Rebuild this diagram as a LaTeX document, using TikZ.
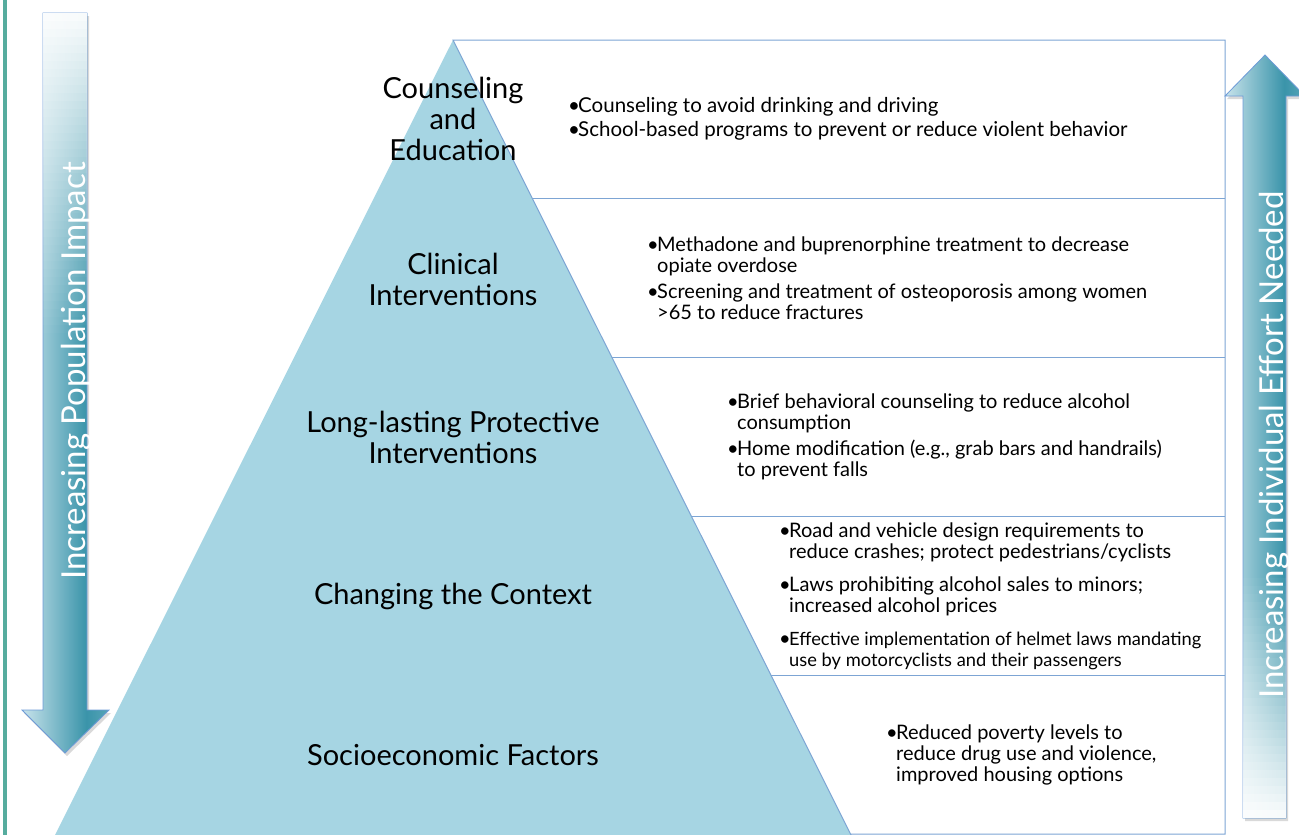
\documentclass[tikz,border=0pt]{standalone}
\usepackage{fontspec}
\setmainfont{Lato}
\usepackage{tikz}

\definecolor{pyrblue}{RGB}{166,213,227}
\definecolor{gridblue}{RGB}{125,165,212}
\definecolor{sidebar}{RGB}{86,172,158}
\definecolor{arrowlight}{RGB}{200,227,235}
\definecolor{arrowteal}{RGB}{58,148,170}
\definecolor{arrowedge}{RGB}{110,155,215}
\pgfdeclarehorizontalshading{arrowshade}{100bp}{color(0bp)=(arrowlight); color(25bp)=(arrowlight); color(62bp)=(arrowteal); color(75bp)=(arrowteal!85!white); color(100bp)=(arrowteal!85!white)}

\newcommand{\bul}{\makebox[10pt][l]{\textbullet}}
\newcommand{\cont}{\hspace*{10pt}}
\newcommand{\narrow}{\fontsize{18.3}{21}\selectfont}

\begin{document}
\begin{tikzpicture}[x=1pt, y=-1pt,
    level/.style={font=\fontsize{29}{31}\selectfont, align=center, inner sep=0pt},
    items/.style={font=\fontsize{20}{21}\selectfont, align=left, anchor=west, inner sep=0pt},
    arrowtext/.style={rotate=90, anchor=base, text=white, font=\fontsize{33}{33}\selectfont, inner sep=0pt}]
    \useasboundingbox (0,0) rectangle (1299,835);
    \fill[sidebar] (3,0) rectangle (7,835);

    % pyramid and table
    \coordinate (apex) at (453,40);
    \coordinate (baseL) at (55,835);
    \coordinate (baseR) at (851,835);
    \fill[pyrblue] (apex) -- (baseR) -- (baseL) -- cycle;
    \draw[gridblue, line width=1pt] (baseR) -- (apex) -- (1225,40) -- (1225,834) -- (850,834);
    \foreach \y in {198,357,516,675}
        \draw[gridblue, line width=1pt] ({453+(\y-40)/2},\y) -- (1225,\y);

    % levels
    \node (counsel) [level] at (453,119) {Counseling\\and\\Education};
    \node (clinical) [level] at (453,279) {Clinical\\Interventions};
    \node (protect) [level] at (453,437) {Long-lasting Protective\\Interventions};
    \node (context) [level] at (453,596) {Changing the Context};
    \node (socio) [level] at (453,755) {Socioeconomic Factors};

    % examples
    \node (counselEx) [items, font=\fontsize{20.5}{24}\selectfont] at (568,119) {\bul Counseling to avoid drinking and driving\\
        \bul School-based programs to prevent or reduce violent behavior};
    \node (clinicalEx) [items] at (647,278) {\bul Methadone and buprenorphine treatment to decrease\\
        \cont opiate overdose\\[5pt]
        \bul Screening and treatment of osteoporosis among women\\
        \cont >65 to reduce fractures};
    \node (protectEx) [items] at (727,437) {\bul Brief behavioral counseling to reduce alcohol\\
        \cont consumption\\[5pt]
        \bul Home modification (e.g., grab bars and handrails)\\
        \cont to prevent falls};
    \node (contextEx) [items] at (779,596) {\bul Road and vehicle design requirements to\\
        \cont reduce crashes; protect pedestrians/cyclists\\[12pt]
        \bul Laws prohibiting alcohol sales to minors;\\
        \cont increased alcohol prices\\[12pt]
        \bul{\narrow Effective implementation of helmet laws mandating}\\
        \cont{\narrow use by motorcyclists and their passengers}};
    \node (socioEx) [items] at (886,755) {\bul Reduced poverty levels to\\
        \cont reduce drug use and violence,\\
        \cont improved housing options};

    % side arrows
    \fill[black!15, xshift=2pt, yshift=-3pt] (43,13) -- (87,13) -- (87,710) -- (109,710) -- (65,753) -- (22,710) -- (43,710) -- cycle;
    \shade[shading=arrowshade, draw=arrowedge, line width=0.8pt]
        (43,13) -- (87,13) -- (87,710) -- (109,710) -- (65,753) -- (22,710) -- (43,710) -- cycle;
    \foreach \i in {0,...,39}{
        \pgfmathsetmacro\op{0.96*(1-\i/40)}
        \fill[white, opacity=\op] (43.4,{13.4+8*\i}) rectangle (86.6,{21.4+8*\i});
    }
    \node (impact) [arrowtext] at (85,371) {Increasing Population Impact};

    \fill[black!15, xshift=2pt, yshift=-3pt] (1243,818) -- (1286,818) -- (1286,96) -- (1305,96) -- (1265,55) -- (1225,96) -- (1243,96) -- cycle;
    \shade[shading=arrowshade, draw=arrowedge, line width=0.8pt]
        (1243,818) -- (1286,818) -- (1286,96) -- (1305,96) -- (1265,55) -- (1225,96) -- (1243,96) -- cycle;
    \foreach \i in {0,...,29}{
        \pgfmathsetmacro\op{0.96*(1-\i/30)}
        \fill[white, opacity=\op] (1243.4,{817.6-8*\i}) rectangle (1285.6,{809.6-8*\i});
    }
    \node (effort) [arrowtext] at (1283,445) {Increasing Individual Effort Needed};
\end{tikzpicture}
\end{document}
